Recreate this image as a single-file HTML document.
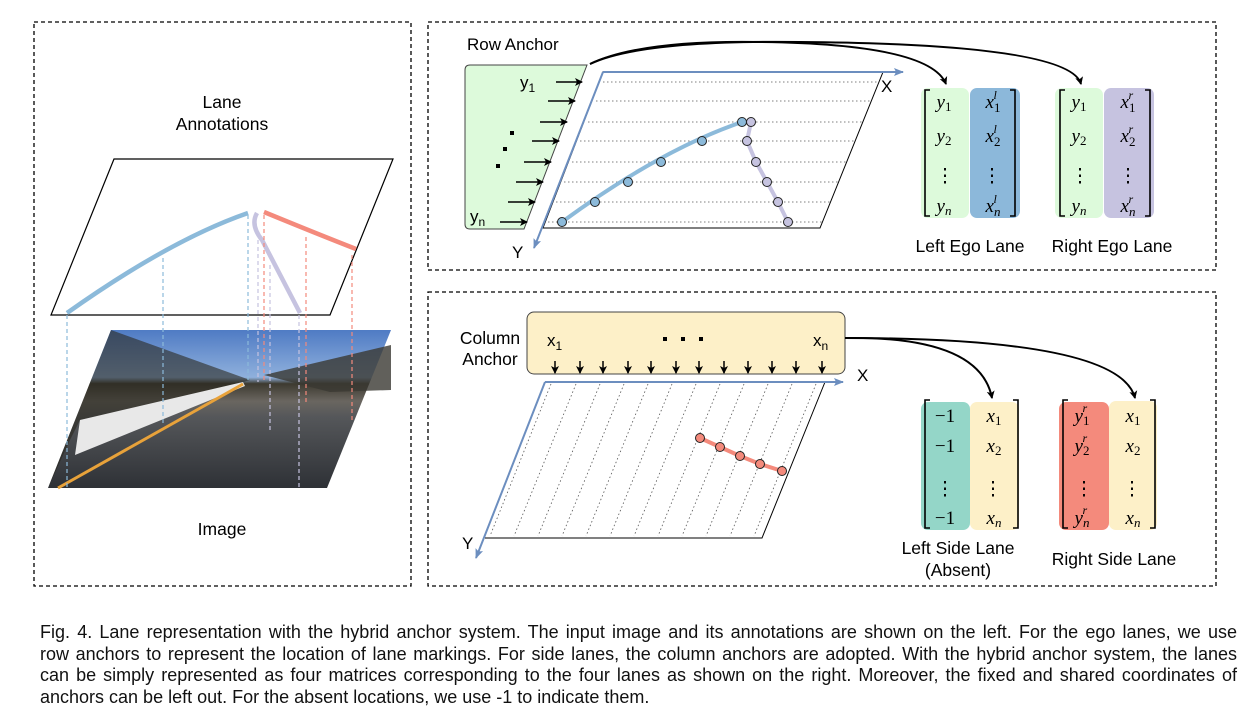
<!DOCTYPE html>
<html><head><meta charset="utf-8"><style>
body{margin:0;background:#fff;width:1244px;height:709px;overflow:hidden;position:relative;font-family:"Liberation Sans",sans-serif}
.cap{position:absolute;left:40px;width:1197px;font-size:18px;line-height:21.6px;letter-spacing:0px;color:#111}
.cap div{text-align:justify;text-align-last:justify;white-space:nowrap;overflow:visible}
.cap div.l{text-align-last:left}
</style></head><body>
<svg width="1244" height="610" style="position:absolute;left:0;top:0" font-family="Liberation Sans, sans-serif">
<defs>
<marker id="ab" markerWidth="10" markerHeight="10" refX="7" refY="5" orient="auto" markerUnits="userSpaceOnUse"><path d="M0,1 L8,5 L0,9 L2,5z" fill="#000"/></marker>
<marker id="abl" markerWidth="12" markerHeight="10" refX="9" refY="5" orient="auto" markerUnits="userSpaceOnUse"><path d="M0,1 L10,5 L0,9 L2,5z" fill="#6c8ebf"/></marker>
<linearGradient id="img" x1="0" y1="0" x2="0" y2="1">
<stop offset="0" stop-color="#4f7bc4"/><stop offset="0.3" stop-color="#8fb0dc"/><stop offset="0.34" stop-color="#3d3a30"/><stop offset="0.45" stop-color="#6a6660"/><stop offset="0.55" stop-color="#55575a"/><stop offset="1" stop-color="#2e3136"/>
</linearGradient>
</defs>
<g fill="none" stroke="#000" stroke-width="1.3" stroke-dasharray="4,3">
<rect x="34" y="22" width="377" height="564"/>
<rect x="428" y="22" width="788" height="248"/>
<rect x="428" y="292" width="788" height="294"/>
</g>
<!-- left panel -->
<text x="222" y="108" font-size="17.5" text-anchor="middle">Lane</text>
<text x="222" y="130" font-size="17.5" text-anchor="middle">Annotations</text>
<polygon points="114,159 393,159 330,315 51,315" fill="#fff" stroke="#000" stroke-width="1.2"/>
<polygon points="111,330 391,330 327,488 48,488" fill="url(#img)"/>
<polygon points="111,330 250,380 200,395 80,420 70,440 48,488" fill="#2a2820" opacity="0.6"/>
<polygon points="80,420 243,382 245,386 75,455" fill="#e8e8e8"/>
<polygon points="264,375 391,345 391,390 330,392" fill="#3a3832" opacity="0.8"/>
<path d="M58,488 L243,384" stroke="#e8a23a" stroke-width="3" fill="none"/>
<path d="M67,313 Q170,240 248,213" stroke="#8cbada" stroke-width="4.5" fill="none"/>
<path d="M257,213 Q250,225 262,240 L300,313" stroke="#c6c3e0" stroke-width="4.5" fill="none"/>
<path d="M264,212 Q320,235 356,249" stroke="#f48a7c" stroke-width="4.5" fill="none"/>
<g stroke-width="1.2" stroke-dasharray="4,3" fill="none">
<path d="M67,315 V488 M163,258 V423 M248,215 V382" stroke="#8cbada"/>
<path d="M258,240 V382 M270,265 V430 M299,315 V488" stroke="#c6c3e0"/>
<path d="M264,215 V383 M306,237 V405 M352,255 V420" stroke="#f48a7c"/>
</g>
<text x="222" y="535" font-size="17.5" text-anchor="middle">Image</text>
<!-- top right -->
<text x="467" y="50" font-size="17">Row Anchor</text>
<path d="M465,70 Q465,65 470,65 L587,65 L524,229 L470,229 Q465,229 465,224 Z" fill="#ddfadb" stroke="#444" stroke-width="1"/>
<polygon points="603,72 883,72 820,228 543,228" fill="#fff" stroke="#000" stroke-width="1"/>
<g stroke="#555" stroke-width="0.8" stroke-dasharray="1.5,2.5">
<path d="M603,82 H879 M596,101 H871 M588,122 H863 M580,141 H855 M572,162 H847 M564,182 H839 M556,202 H831 M548,222 H823"/>
</g>
<path d="M603,72 H903" stroke="#6c8ebf" stroke-width="2" marker-end="url(#abl)"/>
<path d="M603,72 L534,248" stroke="#6c8ebf" stroke-width="2" marker-end="url(#abl)"/>
<g stroke="#000" stroke-width="1.6" marker-end="url(#ab)">
<path d="M556,82 H582"/><path d="M548,101 H575"/><path d="M540,122 H567"/><path d="M532,141 H559"/><path d="M524,162 H551"/><path d="M516,182 H543"/><path d="M508,202 H535"/><path d="M500,222 H527"/>
</g>
<text x="520" y="88" font-size="17">y<tspan font-size="12" dy="4">1</tspan></text>
<text x="470" y="222" font-size="17">y<tspan font-size="12" dy="4">n</tspan></text>
<g fill="#000"><rect x="510" y="131" width="4" height="4"/><rect x="503" y="147" width="4" height="4"/><rect x="496" y="164" width="4" height="4"/></g>
<text x="881" y="92" font-size="17">X</text>
<text x="512" y="258" font-size="17">Y</text>
<path d="M562,222 Q660,150 742,122" stroke="#8cbada" stroke-width="4" fill="none"/>
<path d="M751,122 L747,141 L756,162 L767,182 L778,202 L788,222" stroke="#c6c3e0" stroke-width="4" fill="none"/>
<g stroke="#222" stroke-width="1" fill="#8cbada"><circle cx="562" cy="222" r="4.5"/><circle cx="595" cy="202" r="4.5"/><circle cx="628" cy="182" r="4.5"/><circle cx="661" cy="162" r="4.5"/><circle cx="702" cy="141" r="4.5"/><circle cx="742" cy="122" r="4.5"/></g>
<g stroke="#222" stroke-width="1" fill="#c6c3e0"><circle cx="751" cy="122" r="4.5"/><circle cx="747" cy="141" r="4.5"/><circle cx="756" cy="162" r="4.5"/><circle cx="767" cy="182" r="4.5"/><circle cx="778" cy="202" r="4.5"/><circle cx="788" cy="222" r="4.5"/></g>
<path d="M590,64 Q640,40 760,42 Q930,44 946,84" stroke="#000" stroke-width="2" fill="none" marker-end="url(#ab)"/>
<path d="M590,64 Q640,40 800,42 Q1070,44 1081,84" stroke="#000" stroke-width="2" fill="none" marker-end="url(#ab)"/>
<!-- matrices -->
<rect x="921" y="88" width="48" height="130" rx="7" fill="#ddfadb"/>
<rect x="970" y="88" width="50" height="130" rx="7" fill="#8cb8da"/>
<rect x="1055" y="88" width="48" height="130" rx="7" fill="#ddfadb"/>
<rect x="1104" y="88" width="50" height="130" rx="7" fill="#c6c3e0"/>
<rect x="921" y="402" width="49" height="128" rx="7" fill="#94d6c8"/>
<rect x="970" y="402" width="49" height="128" rx="7" fill="#fdf0c8"/>
<rect x="1059" y="402" width="50" height="128" rx="7" fill="#f48a7c"/>
<rect x="1109" y="401" width="48" height="129" rx="7" fill="#fdf0c8"/>
<g stroke="#000" stroke-width="1.6" fill="none">
<path d="M930,90 H925 V216 H930 M1010,90 H1015 V216 H1010"/>
<path d="M1065,90 H1060 V216 H1065 M1145,90 H1150 V216 H1145"/>
<path d="M930,400 H925 V528 H930 M1013,400 H1018 V528 H1013"/>
<path d="M1068,400 H1063 V528 H1068 M1150,400 H1155 V528 H1150"/>
</g>
<g font-family="Liberation Serif, serif" font-size="19" font-style="italic" text-anchor="middle">
<text x="944" y="108">y<tspan font-size="13" font-style="normal" dy="3">1</tspan></text>
<text x="944" y="142">y<tspan font-size="13" font-style="normal" dy="3">2</tspan></text>
<text x="944" y="212">y<tspan font-size="13" dy="3">n</tspan></text>
<text x="993" y="108">x<tspan font-size="13" font-style="normal" dy="4">1</tspan><tspan font-size="12" dx="-7" dy="-13">l</tspan></text>
<text x="993" y="142">x<tspan font-size="13" font-style="normal" dy="4">2</tspan><tspan font-size="12" dx="-7" dy="-13">l</tspan></text>
<text x="993" y="212">x<tspan font-size="13" dy="4">n</tspan><tspan font-size="12" dx="-7" dy="-13">l</tspan></text>
<text x="1079" y="108">y<tspan font-size="13" font-style="normal" dy="3">1</tspan></text>
<text x="1079" y="142">y<tspan font-size="13" font-style="normal" dy="3">2</tspan></text>
<text x="1079" y="212">y<tspan font-size="13" dy="3">n</tspan></text>
<text x="1128" y="108">x<tspan font-size="13" font-style="normal" dy="4">1</tspan><tspan font-size="12" dx="-7" dy="-13">r</tspan></text>
<text x="1128" y="142">x<tspan font-size="13" font-style="normal" dy="4">2</tspan><tspan font-size="12" dx="-7" dy="-13">r</tspan></text>
<text x="1128" y="212">x<tspan font-size="13" dy="4">n</tspan><tspan font-size="12" dx="-7" dy="-13">r</tspan></text>
<text x="994" y="422">x<tspan font-size="13" font-style="normal" dy="3">1</tspan></text>
<text x="994" y="452">x<tspan font-size="13" font-style="normal" dy="3">2</tspan></text>
<text x="994" y="524">x<tspan font-size="13" dy="3">n</tspan></text>
<text x="1133" y="422">x<tspan font-size="13" font-style="normal" dy="3">1</tspan></text>
<text x="1133" y="452">x<tspan font-size="13" font-style="normal" dy="3">2</tspan></text>
<text x="1133" y="524">x<tspan font-size="13" dy="3">n</tspan></text>
<text x="1082" y="422">y<tspan font-size="13" font-style="normal" dy="3">1</tspan><tspan font-size="12" dx="-7" dy="-13">r</tspan></text>
<text x="1082" y="452">y<tspan font-size="13" font-style="normal" dy="3">2</tspan><tspan font-size="12" dx="-7" dy="-13">r</tspan></text>
<text x="1082" y="524">y<tspan font-size="13" dy="3">n</tspan><tspan font-size="12" dx="-7" dy="-13">r</tspan></text>
</g>
<g font-family="Liberation Serif, serif" font-size="19" text-anchor="middle">
<text x="945" y="422">−1</text><text x="945" y="452">−1</text><text x="945" y="524">−1</text>
</g>
<g font-size="19" text-anchor="middle" font-family="Liberation Serif, serif">
<text x="945" y="182">⋮</text><text x="992" y="182">⋮</text><text x="1080" y="182">⋮</text><text x="1128" y="182">⋮</text>
<text x="945" y="495">⋮</text><text x="993" y="495">⋮</text><text x="1084" y="495">⋮</text><text x="1132" y="495">⋮</text>
</g>
<text x="970" y="252" font-size="17.5" text-anchor="middle">Left Ego Lane</text>
<text x="1112" y="252" font-size="17.5" text-anchor="middle">Right Ego Lane</text>
<!-- bottom right -->
<text x="490" y="344" font-size="17.5" text-anchor="middle">Column</text>
<text x="490" y="365" font-size="17.5" text-anchor="middle">Anchor</text>
<rect x="527" y="312" width="318" height="62" rx="7" fill="#fdf0c8" stroke="#444" stroke-width="1"/>
<text x="547" y="346" font-size="17">x<tspan font-size="12" dy="4">1</tspan></text>
<text x="813" y="346" font-size="17">x<tspan font-size="12" dy="4">n</tspan></text>
<g fill="#000"><rect x="663" y="337" width="4" height="4"/><rect x="681" y="337" width="4" height="4"/><rect x="699" y="337" width="4" height="4"/></g>
<g stroke="#000" stroke-width="1.5" marker-end="url(#ab)">
<path d="M555,361 V373"/><path d="M580,361 V373"/><path d="M603,361 V373"/><path d="M628,361 V373"/><path d="M651,361 V373"/><path d="M676,361 V373"/><path d="M699,361 V373"/><path d="M724,361 V373"/><path d="M748,361 V373"/><path d="M772,361 V373"/><path d="M796,361 V373"/><path d="M822,361 V373"/>
</g>
<polygon points="545,382 825,382 762,538 485,538" fill="#fff"/>
<path d="M825,382 L762,538 L485,538" stroke="#000" stroke-width="1" fill="none"/>
<g stroke="#555" stroke-width="0.8" stroke-dasharray="1.5,2.5">
<path d="M551,384 L490,536 M576,384 L514,536 M600,384 L538,536 M624,384 L562,536 M648,384 L586,536 M672,384 L610,536 M696,384 L634,536 M720,384 L658,536 M744,384 L682,536 M768,384 L706,536 M792,384 L730,536 M816,384 L754,536"/>
</g>
<path d="M545,382 H843" stroke="#6c8ebf" stroke-width="2" marker-end="url(#abl)"/>
<path d="M545,382 L476,558" stroke="#6c8ebf" stroke-width="2" marker-end="url(#abl)"/>
<text x="857" y="381" font-size="17">X</text>
<text x="462" y="549" font-size="17">Y</text>
<path d="M700,438 L720,447 L740,456 L760,464 L782,471" stroke="#f48a7c" stroke-width="4" fill="none"/>
<g stroke="#222" stroke-width="1" fill="#f48a7c"><circle cx="700" cy="438" r="4.5"/><circle cx="720" cy="447" r="4.5"/><circle cx="740" cy="456" r="4.5"/><circle cx="760" cy="464" r="4.5"/><circle cx="782" cy="471" r="4.5"/></g>
<path d="M845,338 Q980,336 992,398" stroke="#000" stroke-width="2" fill="none" marker-end="url(#ab)"/>
<path d="M845,338 Q1120,338 1135,398" stroke="#000" stroke-width="2" fill="none" marker-end="url(#ab)"/>
<text x="958" y="554" font-size="17.5" text-anchor="middle">Left Side Lane</text>
<text x="958" y="576" font-size="17.5" text-anchor="middle">(Absent)</text>
<text x="1114" y="565" font-size="17.5" text-anchor="middle">Right Side Lane</text>
</svg>
<div class="cap" style="top:622px">
<div>Fig. 4. Lane representation with the hybrid anchor system. The input image and its annotations are shown on the left. For the ego lanes, we use</div>
<div>row anchors to represent the location of lane markings. For side lanes, the column anchors are adopted. With the hybrid anchor system, the lanes</div>
<div>can be simply represented as four matrices corresponding to the four lanes as shown on the right. Moreover, the fixed and shared coordinates of</div>
<div class="l">anchors can be left out. For the absent locations, we use -1 to indicate them.</div>
</div>
</body></html>
